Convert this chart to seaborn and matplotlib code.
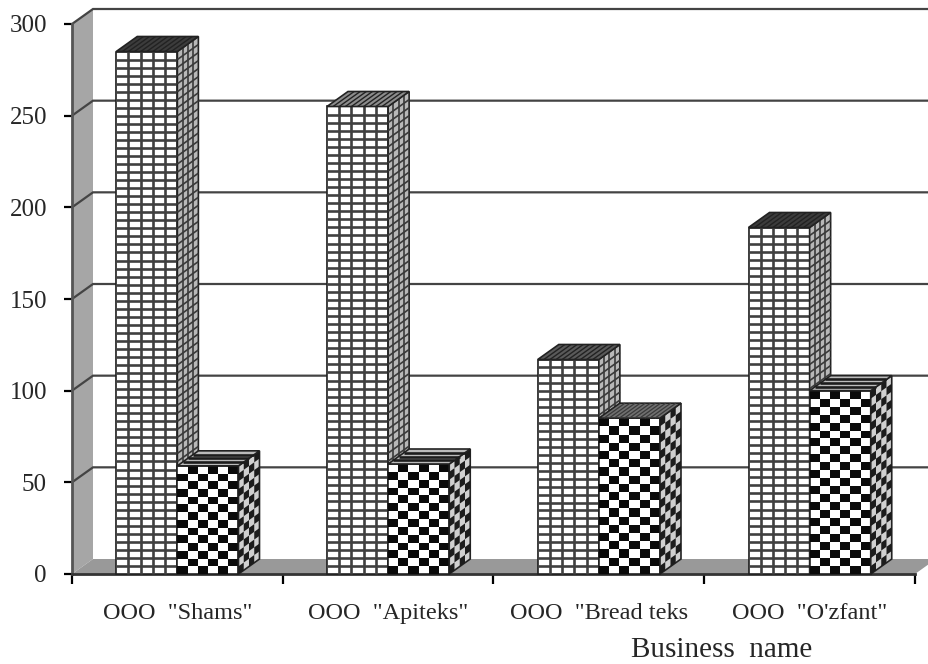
import numpy as np
import pandas as pd
import matplotlib
matplotlib.use("Agg")
import matplotlib.pyplot as plt
from matplotlib.collections import PolyCollection, LineCollection
from matplotlib.patches import Polygon
import seaborn as sns

businesses = ['OOO  "Shams"', 'OOO  "Apiteks"', 'OOO  "Bread teks', 'OOO  "O\'zfant"']
series_one = [285, 255, 117, 189]
series_two = [59, 60, 85, 100]
y_ticks = [0, 50, 100, 150, 200, 250, 300]
x_label = "Business  name"

sns.set_style("white")
plt.rcParams['font.family'] = ['Liberation Serif', 'DejaVu Serif']

W, H = 929, 664
fig = plt.figure(figsize=(W / 100, H / 100), dpi=100)
ax = fig.add_axes([72 / W, (H - 574) / H, 843 / W, 550 / H])

data = pd.DataFrame({
    'business': businesses * 2,
    'series': ['one'] * 4 + ['two'] * 4,
    'value': series_one + series_two,
})
sns.barplot(data=data, x='business', y='value', hue='series', order=businesses,
            palette=['white', 'white'], width=0.58, gap=0, legend=False,
            edgecolor='#222222', linewidth=1.0, ax=ax)
ax.set_xlim(-0.5, 3.5)
ax.set_ylim(0, 300)

# pixel sizes turned into data units
px_x = 4 / 843
px_y = 300 / 550
dx = 21 * px_x
dy = 15 * px_y
right = 3.5 + dx


def add_poly(pts, z, **kw):
    ax.add_patch(Polygon(pts, closed=True, clip_on=False, zorder=z, **kw))


def grid_face(o, u, v, nu, nv, z, color='#404040', lw=1.9, fill='white'):
    o, u, v = np.array(o), np.array(u), np.array(v)
    add_poly([o, o + u, o + u + v, o + v], z, facecolor=fill, edgecolor='#222222', linewidth=1.2)
    segs = []
    for i in range(1, nu):
        segs.append([o + u * i / nu, o + u * i / nu + v])
    for j in range(1, nv):
        segs.append([o + v * j / nv, o + v * j / nv + u])
    ax.add_collection(LineCollection(segs, colors=color, linewidths=lw, zorder=z + 0.1, clip_on=False))


def checker_face(o, u, v, nu, nv, z, fill='white', dark='#0a0a0a'):
    o, u, v = np.array(o), np.array(u), np.array(v)
    add_poly([o, o + u, o + u + v, o + v], z, facecolor=fill, edgecolor='#222222', linewidth=1.2)
    cells = []
    for i in range(nu):
        for j in range(nv):
            if (i + j) % 2 == 0:
                a = o + u * i / nu + v * j / nv
                b = a + u / nu
                c = b + v / nv
                d = a + v / nv
                cells.append([a, b, c, d])
    ax.add_collection(PolyCollection(cells, facecolors=dark, edgecolors='none', zorder=z + 0.1, clip_on=False))


# back wall and floor
add_poly([(-0.5, 0), (-0.5 + dx, dy), (-0.5 + dx, 300 + dy), (-0.5, 300)], 1,
         facecolor='#a6a6a6', edgecolor='none')
add_poly([(-0.5, 0), (3.5, 0), (right, dy), (-0.5 + dx, dy)], 1,
         facecolor='#999999', edgecolor='none')

# gridlines on the wall
for val in y_ticks[1:]:
    ax.plot([-0.5, -0.5 + dx, right], [val, val + dy, val + dy], color='#444444', lw=1.6,
            zorder=2, clip_on=False, solid_joinstyle='miter')

# bars with their front, side and top faces
bars = list(ax.patches)
top_one = ['#3c3c3c', '#8c8c8c', '#5a5a5a', '#3c3c3c']
top_two = ['#bbbbbb', '#bbbbbb', '#707070', '#bbbbbb']
for k, bar in enumerate(bars[:8]):
    x0, w, h = bar.get_x(), bar.get_width(), bar.get_height()
    second = k >= 4
    z = 5 + (k - 4 if second else k) * 5 + (2 if second else 0)
    bar.set_zorder(z)
    nu = max(1, int(round(w / px_x / (10.5 if second else 12))))
    nv = max(1, int(round(h / px_y / 8)))
    front = (x0, 0)
    if second:
        checker_face(front, (w, 0), (0, h), nu, nv, z + 0.2)
        checker_face((x0 + w, 0), (dx, dy), (0, h), 4, nv, z + 0.4, fill='#d0d0d0', dark='#1c1c1c')
        if k == 6:
            grid_face((x0, h), (w, 0), (dx, dy), 12, 1, z + 0.6, color='#3a3a3a', lw=0.9, fill=top_two[k - 4])
        else:
            grid_face((x0, h), (w, 0), (dx, dy), 1, 4, z + 0.6, color='#1c1c1c', lw=1.9, fill=top_two[k - 4])
    else:
        grid_face(front, (w, 0), (0, h), nu, nv, z + 0.2)
        grid_face((x0 + w, 0), (dx, dy), (0, h), 4, nv, z + 0.4, color='#3a3a3a', lw=1.2, fill='#b8b8b8')
        grid_face((x0, h), (w, 0), (dx, dy), 10, 1, z + 0.6, color='#222222', lw=1.0, fill=top_one[k])

# axes, ticks and labels
sns.despine(ax=ax, top=True, right=True)
ax.spines['left'].set_color('#555555')
ax.spines['left'].set_linewidth(2)
ax.spines['left'].set_zorder(3)
ax.spines['bottom'].set_color('#333333')
ax.spines['bottom'].set_linewidth(2)
ax.spines['bottom'].set_zorder(3)
ax.set_yticks(y_ticks)
ax.set_xticks(range(4))
ax.set_xticklabels(businesses)
ax.set_xticks(np.arange(-0.5, 4), minor=True)
ax.tick_params(axis='x', which='major', length=0, pad=21, labelsize=17.5)
ax.tick_params(axis='x', which='minor', length=7, width=1.6, color='black', bottom=True, direction='out')
ax.tick_params(axis='y', which='major', length=6, width=1.6, color='black', left=True, pad=12, labelsize=18)
ax.set_xlabel('')
ax.set_ylabel('')
fig.text(722 / W, (H - 650) / H, x_label, ha='center', va='center', fontsize=21)

fig.savefig('out.png', dpi=100)
